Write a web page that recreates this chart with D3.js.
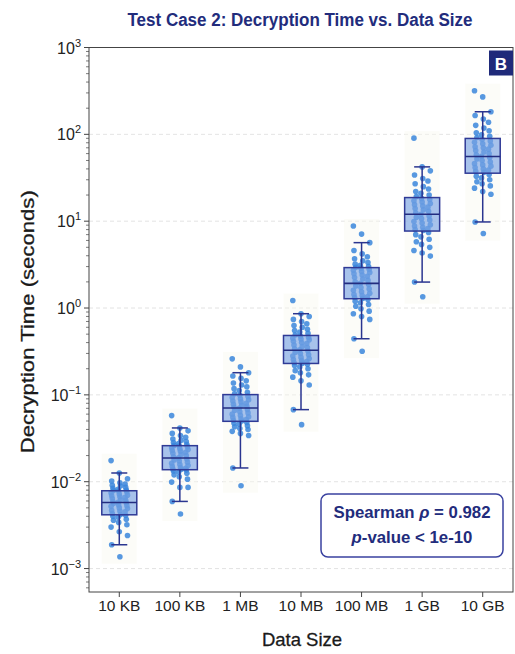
<!DOCTYPE html>
<html>
<head>
<meta charset="utf-8">
<script src="https://cdn.jsdelivr.net/npm/d3@7/dist/d3.min.js"></script>
<style>
  html, body { margin: 0; padding: 0; background: #ffffff; }
  svg { display: block; }
  text { font-family: "Liberation Sans", Arial, Helvetica, sans-serif; }
</style>
</head>
<body>
<svg id="chart" width="515" height="654"></svg>
<script>
// ---------------- DATA ----------------
const categories = ["10 KB", "100 KB", "1 MB", "10 MB", "100 MB", "1 GB", "10 GB"];

// box statistics (seconds)
const q1          = [0.00416, 0.01375, 0.0496, 0.23,  1.28, 7.7,  35.7];
const medians     = [0.00577, 0.01875, 0.0705, 0.327, 1.92, 12.0, 55.6];
const q3          = [0.00787, 0.026,   0.1007, 0.483, 2.92, 18.7, 89.7];
const whiskerLow  = [0.00188, 0.00593, 0.0144, 0.0676, 0.443, 1.99, 9.8];
const whiskerHigh = [0.0126,  0.0416,  0.18,   0.86,   5.66,  42.2, 182];

// individual measurements (seconds)
const pts10KB = [0.0175, 0.0126, 0.0108, 0.0102, 0.0097, 0.0094, 0.0091, 0.0089, 0.0086, 0.0084, 0.0082, 0.0080, 0.0079,
  0.0078, 0.0076, 0.0074, 0.0072, 0.0070, 0.0069, 0.0067, 0.0066, 0.0064, 0.0062, 0.0061, 0.0059, 0.0058, 0.0057,
  0.0056, 0.0054, 0.0053, 0.0052, 0.0050, 0.0049, 0.0047, 0.0046, 0.0045, 0.0043, 0.0042,
  0.0041, 0.0040, 0.0039, 0.0037, 0.0036, 0.0034, 0.0032, 0.0030, 0.00265, 0.0024, 0.00188, 0.00137];
const pts100KB = [0.0577, 0.0416, 0.0385, 0.0360, 0.0340, 0.0325, 0.0310, 0.0300, 0.0290, 0.0282, 0.0275, 0.0268, 0.0262,
  0.0258, 0.0252, 0.0246, 0.0240, 0.0235, 0.0229, 0.0224, 0.0218, 0.0212, 0.0206, 0.0200, 0.0194, 0.0188, 0.0183,
  0.0178, 0.0173, 0.0168, 0.0163, 0.0158, 0.0154, 0.0150, 0.0146, 0.0143, 0.0140, 0.0138,
  0.0136, 0.0133, 0.0129, 0.0125, 0.0120, 0.0114, 0.0107, 0.0099, 0.0086, 0.0086, 0.00593, 0.00424];
const pts1MB = [0.26, 0.21, 0.18, 0.165, 0.155, 0.145, 0.137, 0.130, 0.124, 0.118, 0.112, 0.107, 0.103,
  0.099, 0.096, 0.093, 0.090, 0.088, 0.085, 0.083, 0.080, 0.078, 0.076, 0.074, 0.072, 0.070, 0.068,
  0.066, 0.064, 0.062, 0.060, 0.058, 0.056, 0.055, 0.053, 0.052, 0.051, 0.050,
  0.048, 0.047, 0.046, 0.044, 0.043, 0.041, 0.040, 0.038, 0.036, 0.034, 0.0144, 0.009];
const pts10MB = [1.22, 0.86, 0.80, 0.74, 0.70, 0.66, 0.63, 0.60, 0.57, 0.55, 0.53, 0.51, 0.49,
  0.475, 0.46, 0.45, 0.44, 0.43, 0.415, 0.40, 0.39, 0.375, 0.36, 0.35, 0.34, 0.33, 0.32,
  0.31, 0.30, 0.29, 0.28, 0.27, 0.262, 0.255, 0.248, 0.242, 0.236, 0.232,
  0.225, 0.218, 0.21, 0.20, 0.19, 0.18, 0.17, 0.16, 0.145, 0.13, 0.0676, 0.0454];
const pts100MB = [8.8, 7.1, 5.66, 4.6, 4.2, 3.9, 3.7, 3.5, 3.35, 3.2, 3.1, 3.0, 2.95,
  2.88, 2.8, 2.72, 2.64, 2.56, 2.48, 2.4, 2.32, 2.24, 2.16, 2.08, 2.0, 1.93, 1.86,
  1.79, 1.72, 1.66, 1.6, 1.54, 1.48, 1.43, 1.39, 1.35, 1.32, 1.29,
  1.25, 1.2, 1.15, 1.1, 1.05, 0.98, 0.92, 0.86, 0.8, 0.74, 0.443, 0.318];
const pts1GB = [90.4, 42.2, 38, 34, 31, 29, 27, 25, 23.5, 22, 21, 20, 19.2,
  18.3, 17.8, 17.2, 16.6, 16.0, 15.5, 15.0, 14.5, 14.0, 13.5, 13.0, 12.5, 12.0, 11.5,
  11.1, 10.7, 10.3, 9.9, 9.5, 9.1, 8.8, 8.5, 8.2, 8.0, 7.8,
  7.4, 7.0, 6.6, 6.2, 5.8, 5.4, 5.0, 4.6, 4.3, 3.96, 1.99, 1.35];
const pts10GB = [318, 270, 182, 165, 150, 138, 127, 118, 110, 104, 99, 95, 92,
  87, 84, 81, 78, 75, 72, 70, 67.5, 65, 62.5, 60, 58, 56, 54,
  52, 50, 48, 46, 44.5, 43, 41.5, 40, 38.8, 37.6, 36.5,
  34.5, 33, 31.5, 30, 28.5, 27, 25.5, 24, 22, 20.4, 9.8, 7.2];
const points = [pts10KB, pts100KB, pts1MB, pts10MB, pts100MB, pts1GB, pts10GB];

const yTickExponents = [-3, -2, -1, 0, 1, 2, 3];
const titleText = "Test Case 2: Decryption Time vs. Data Size";
const xLabel = "Data Size";
const yLabel = "Decryption Time (seconds)";
const panelLetter = "B";
const statLine1 = "0.982";
const statLine2 = "1e-10";

// ---------------- LAYOUT ----------------
const svg = d3.select("#chart");
const m = { left: 89, right: 513, top: 47.5, bottom: 592 };
const navy = "#222c7c";

const x = d3.scalePoint().domain(categories).range([m.left, m.right]).padding(0.5);
const y = d3.scaleLog().domain([Math.pow(10, -3.27), 1000]).range([m.bottom, m.top]);

// grid lines
const g = svg.append("g");
g.selectAll("line.grid")
  .data(yTickExponents.filter(e => e < 3))
  .join("line")
  .attr("x1", m.left).attr("x2", m.right)
  .attr("y1", e => y(Math.pow(10, e))).attr("y2", e => y(Math.pow(10, e)))
  .attr("stroke", "#dcdcdc").attr("stroke-width", 0.8).attr("stroke-dasharray", "4,3");

const boxW = 35, capW = 16;

categories.forEach((cat, i) => {
  const cx = x(cat);
  const vals = points[i];
  const top = y(d3.max(vals)) - 7, bot = y(d3.min(vals)) + 7;
  // faint strip background
  g.append("rect").attr("x", cx - boxW / 2).attr("width", boxW)
    .attr("y", top).attr("height", bot - top)
    .attr("fill", "#f8f8f0").attr("opacity", 0.45);
  // points (deterministic jitter in three lanes)
  g.append("g").selectAll("circle").data(vals).join("circle")
    .attr("cx", (d, j) => cx + ((j % 3) - 1) * 7 + (((j * 7) % 5) - 2) * 0.6)
    .attr("cy", d => y(d))
    .attr("r", 2.8)
    .attr("fill", "#3a86dc")
    .attr("opacity", 0.85);
  // box
  g.append("rect")
    .attr("x", cx - boxW / 2).attr("width", boxW)
    .attr("y", y(q3[i])).attr("height", y(q1[i]) - y(q3[i]))
    .attr("fill", "#7aa3e4").attr("fill-opacity", 0.65)
    .attr("stroke", "#2f3a96").attr("stroke-width", 1.5);
  // whiskers
  const wl = [[q3[i], whiskerHigh[i]], [q1[i], whiskerLow[i]]];
  wl.forEach(([a, b]) => {
    g.append("line").attr("x1", cx).attr("x2", cx).attr("y1", y(a)).attr("y2", y(b))
      .attr("stroke", "#2a3590").attr("stroke-width", 1.5);
    g.append("line").attr("x1", cx - capW / 2).attr("x2", cx + capW / 2).attr("y1", y(b)).attr("y2", y(b))
      .attr("stroke", "#2a3590").attr("stroke-width", 1.5);
  });
  // median
  g.append("line").attr("x1", cx - boxW / 2).attr("x2", cx + boxW / 2)
    .attr("y1", y(medians[i])).attr("y2", y(medians[i]))
    .attr("stroke", "#232d80").attr("stroke-width", 1.6);
});

// frame
svg.append("rect").attr("x", m.left).attr("y", m.top)
  .attr("width", m.right - m.left).attr("height", m.bottom - m.top)
  .attr("fill", "none").attr("stroke", "#444").attr("stroke-width", 1);

// y axis ticks (major + minor)
const yAxis = svg.append("g");
const minor = [];
for (let e = -4; e < 3; e++) for (let k = 2; k <= 9; k++) {
  const v = k * Math.pow(10, e);
  if (v >= y.domain()[0] && v <= 1000) minor.push(v);
}
yAxis.selectAll("line.minor").data(minor).join("line")
  .attr("x1", m.left - 3).attr("x2", m.left).attr("y1", d => y(d)).attr("y2", d => y(d))
  .attr("stroke", "#444").attr("stroke-width", 0.7);
yAxis.selectAll("line.major").data(yTickExponents).join("line")
  .attr("x1", m.left - 5).attr("x2", m.left)
  .attr("y1", e => y(Math.pow(10, e))).attr("y2", e => y(Math.pow(10, e)))
  .attr("stroke", "#444").attr("stroke-width", 1);
const lbl = yAxis.selectAll("text.ytick").data(yTickExponents).join("text")
  .attr("x", m.left - 8).attr("y", e => y(Math.pow(10, e)) + 6)
  .attr("text-anchor", "end").attr("fill", "#222").attr("font-size", 16);
lbl.append("tspan").text("10");
lbl.append("tspan").attr("dy", -7).attr("font-size", 11)
  .text(e => (e < 0 ? "\u2212" + Math.abs(e) : String(e)));

// x axis ticks
const xAxis = svg.append("g");
xAxis.selectAll("line").data(categories).join("line")
  .attr("x1", d => x(d)).attr("x2", d => x(d)).attr("y1", m.bottom).attr("y2", m.bottom + 5)
  .attr("stroke", "#444").attr("stroke-width", 1);
xAxis.selectAll("text").data(categories).join("text")
  .attr("x", d => x(d)).attr("y", 611).attr("text-anchor", "middle")
  .attr("fill", "#222").attr("font-size", 15.5).text(d => d);

// axis labels
svg.append("text").attr("x", (m.left + m.right) / 2 + 1).attr("y", 646)
  .attr("text-anchor", "middle").attr("font-size", 18.5).attr("fill", "#1a1a1a")
  .attr("stroke", "#1a1a1a").attr("stroke-width", 0.3)
  .text(xLabel);
svg.append("text").attr("transform", `translate(34,${(m.top + m.bottom) / 2 + 2}) rotate(-90)`)
  .attr("text-anchor", "middle").attr("font-size", 18).attr("fill", "#1a1a1a")
  .attr("stroke", "#1a1a1a").attr("stroke-width", 0.3)
  .attr("textLength", 263).attr("lengthAdjust", "spacingAndGlyphs")
  .text(yLabel);

// title
svg.append("text").attr("x", 300).attr("y", 26).attr("text-anchor", "middle")
  .attr("font-size", 18).attr("font-weight", "bold").attr("fill", navy)
  .attr("textLength", 345).attr("lengthAdjust", "spacingAndGlyphs")
  .text(titleText);

// panel badge
svg.append("rect").attr("x", m.right - 24).attr("y", m.top + 3).attr("width", 24).attr("height", 25)
  .attr("fill", "#1f2a7a");
svg.append("text").attr("x", m.right - 12).attr("y", m.top + 22).attr("text-anchor", "middle")
  .attr("font-size", 17).attr("font-weight", "bold").attr("fill", "#ffffff").text(panelLetter);

// stats box
const sb = svg.append("g");
sb.append("rect").attr("x", 321).attr("y", 494).attr("width", 182).attr("height", 63).attr("rx", 7)
  .attr("fill", "#ffffff").attr("stroke", "#3a42a0").attr("stroke-width", 1.5);
const t1 = sb.append("text").attr("x", 412).attr("y", 518).attr("text-anchor", "middle")
  .attr("font-size", 16.8).attr("font-weight", "bold").attr("fill", navy);
t1.append("tspan").text("Spearman ");
t1.append("tspan").attr("font-style", "italic").text("\u03C1");
t1.append("tspan").text(" = " + statLine1);
const t2 = sb.append("text").attr("x", 412).attr("y", 543).attr("text-anchor", "middle")
  .attr("font-size", 16.8).attr("font-weight", "bold").attr("fill", navy);
t2.append("tspan").attr("font-style", "italic").text("p");
t2.append("tspan").text("-value < " + statLine2);
</script>
</body>
</html>
